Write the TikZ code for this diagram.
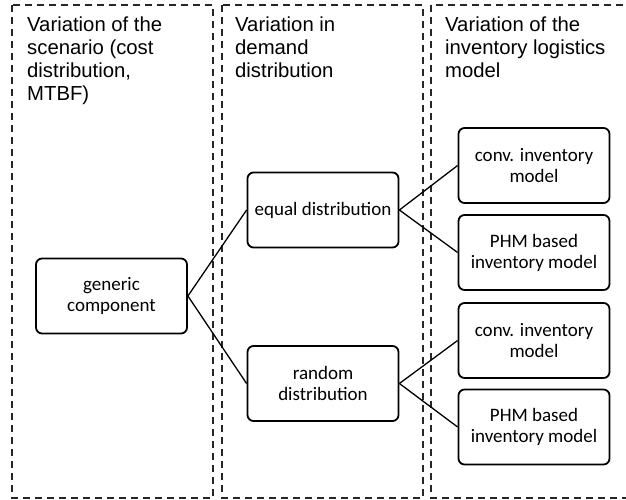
\documentclass[tikz,border=0pt]{standalone}
\usepackage{fontspec}
\setmainfont{Liberation Sans}
\newfontfamily\boxfont{Carlito}
\begin{document}
\begin{tikzpicture}[x=1pt,y=-1pt,
  column/.style={draw=black!85, line width=1.5pt, dash pattern=on 7pt off 5pt},
  title/.style={anchor=north west, inner sep=0pt, align=left, font=\fontsize{20.3}{22.7}\selectfont},
  box/.style={draw=black, line width=1.8pt, rounded corners=6pt, align=center,
    minimum width=151pt, minimum height=75pt, inner sep=2pt,
    font=\boxfont\fontsize{19}{21}\selectfont},
  link/.style={draw=black, line width=1.3pt}]
\useasboundingbox (0,0) rectangle (626,500);
\draw[column] (12,5) rectangle (213,498);
\draw[column] (222,5) rectangle (423,498);
\draw[column] (431,5) rectangle (640,498);
\node[title] (t1) at (27,17) {Variation of the\\scenario (cost\\distribution,\\MTBF)};
\node[title] (t2) at (235,17) {Variation in\\demand\\distribution};
\node[title] (t3) at (445,17) {Variation of the\\inventory logistics\\model};
\node[box] (gen) at (111.5,296) {generic\\component};
\node[box] (eq) at (323,210) {equal distribution};
\node[box] (rnd) at (323,383.5) {random\\distribution};
\node[box] (c1) at (534,165.5) {conv. inventory\\model};
\node[box] (p1) at (534,252.5) {PHM based\\inventory model};
\node[box] (c2) at (534,340.5) {conv. inventory\\model};
\node[box] (p2) at (534,427) {PHM based\\inventory model};
\draw[link] (gen.east) -- (eq.west);
\draw[link] (gen.east) -- (rnd.west);
\draw[link] (eq.east) -- (c1.west);
\draw[link] (eq.east) -- (p1.west);
\draw[link] (rnd.east) -- (c2.west);
\draw[link] (rnd.east) -- (p2.west);
\end{tikzpicture}
\end{document}
